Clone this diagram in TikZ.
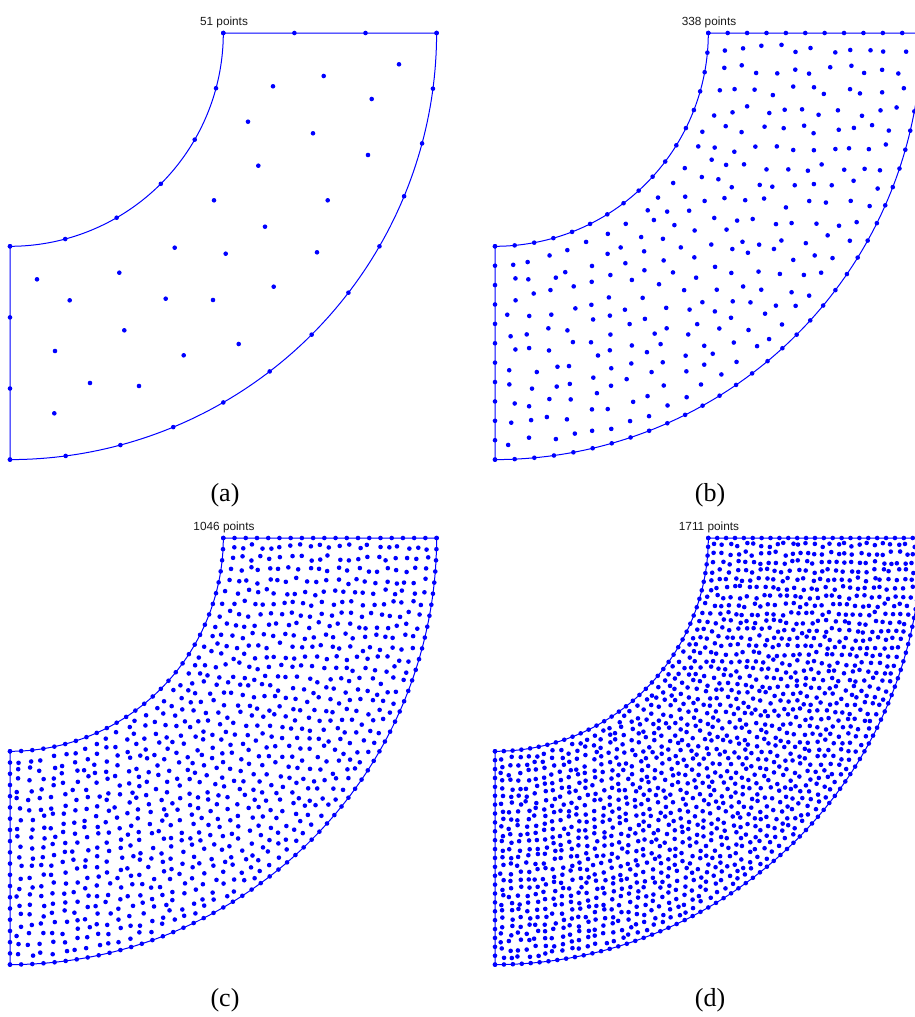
\documentclass[tikz,border=0pt]{standalone}
\usepackage{fontspec}
\setmainfont{Liberation Serif}
\newfontfamily\hvfont{Liberation Sans}
\def\U{213.3}
\def\dotr{2.3pt}
\tikzset{
  bline/.style={draw=blue, line width=1pt, line join=round},
  dotc/.style={fill=blue},
  ttl/.style={anchor=base, inner sep=0pt, font=\hvfont\fontsize{11.8}{14}\selectfont, text=black!90},
  lbl/.style={anchor=base, inner sep=0pt, font=\fontsize{26}{30}\selectfont}
}
% boundary: cx cy nLeft nTop nInner nOuter
\newcommand\drawbound[6]{%
  \draw[bline] ({#1+\U},#2) -- ({#1+2*\U},#2)
    -- plot[domain=0:90,samples=181] ({#1+2*\U*cos(\x)},{#2+2*\U*sin(\x)})
    -- (#1,{#2+\U})
    -- plot[domain=90:0,samples=91] ({#1+\U*cos(\x)},{#2+\U*sin(\x)}) -- cycle;
  \foreach \j in {0,...,#3} \fill[dotc] (#1,{#2+\U+\U*\j/#3}) circle[radius=\dotr];
  \foreach \j in {0,...,#4} \fill[dotc] ({#1+\U+\U*\j/#4},#2) circle[radius=\dotr];
  \foreach \j in {0,...,#5} \fill[dotc] ({#1+\U*cos(90*\j/#5)},{#2+\U*sin(90*\j/#5)}) circle[radius=\dotr];
  \foreach \j in {0,...,#6} \fill[dotc] ({#1+2*\U*cos(90*\j/#6)},{#2+2*\U*sin(90*\j/#6)}) circle[radius=\dotr];
}
% interior rings: cx cy m h seed
\newcommand\drawrings[5]{%
  \pgfmathsetseed{#5}%
  \foreach \k in {1,...,#3}{%
    \pgfmathsetmacro\rk{1+\k/(#3+1)}%
    \pgfmathtruncatemacro\Nk{round(pi/2*\rk/#4-0.6)}%
    \pgfmathsetmacro\sk{pi/2*\rk/(\Nk+0.6)}%
    \pgfmathtruncatemacro\Nm{\Nk-1}%
    \foreach \j in {0,...,\Nm}{%
      \pgfmathsetmacro\rr{\rk+0.24*rand/(#3+1)}%
      \pgfmathsetmacro\tt{deg((0.8+\j+0.24*rand)*\sk/\rk)}%
      \fill[dotc] ({#1+\U*\rr*cos(\tt)},{#2+\U*\rr*sin(\tt)}) circle[radius=\dotr];
    }%
  }%
}
\begin{document}
\begin{tikzpicture}[x=1pt,y=-1pt]
\useasboundingbox (0,0) rectangle (915,1017);
\clip (0,0) rectangle (915,1017);
% panel (a)
\drawbound{10}{33}{3}{3}{6}{12}
\foreach \p in {(399,64.3),(323.7,76),(273,86.3),(371.7,99),(248,121.7),(313,133.3),(368,155),(258.3,165.7),(214,200.3),(327.7,200.3),(265,226.7),
  (174.7,247.7),(225.7,253.7),(317,252.3),(37,279.3),(119.3,272.7),(69.7,300.3),(165.7,298.7),(213,300),(273.7,286.7),(124.3,330.3),(238.7,344),(55,351),(183.7,355.3),(90,383),(139,386),(54.3,413.3)}
  \fill[dotc] \p circle[radius=\dotr];
% panel (b)
\drawbound{495}{33}{11}{11}{17}{34}
\drawrings{495}{33}{11}{0.0954}{7}
% panel (c)
\drawbound{10}{538}{19}{19}{30}{60}
\drawrings{10}{538}{21}{0.0532}{11}
% panel (d)
\drawbound{495}{538}{24}{24}{38}{75}
\drawrings{495}{538}{27}{0.0406}{23}
% titles
\node[ttl] (ta) at (224,25) {51 points};
\node[ttl] (tb) at (709,25) {338 points};
\node[ttl] (tc) at (224,530) {1046 points};
\node[ttl] (td) at (709,530) {1711 points};
% labels
\node[lbl] (la) at (225,501) {(a)};
\node[lbl] (lb) at (710,501) {(b)};
\node[lbl] (lc) at (225,1006) {(c)};
\node[lbl] (ld) at (710,1006) {(d)};
\end{tikzpicture}
\end{document}
